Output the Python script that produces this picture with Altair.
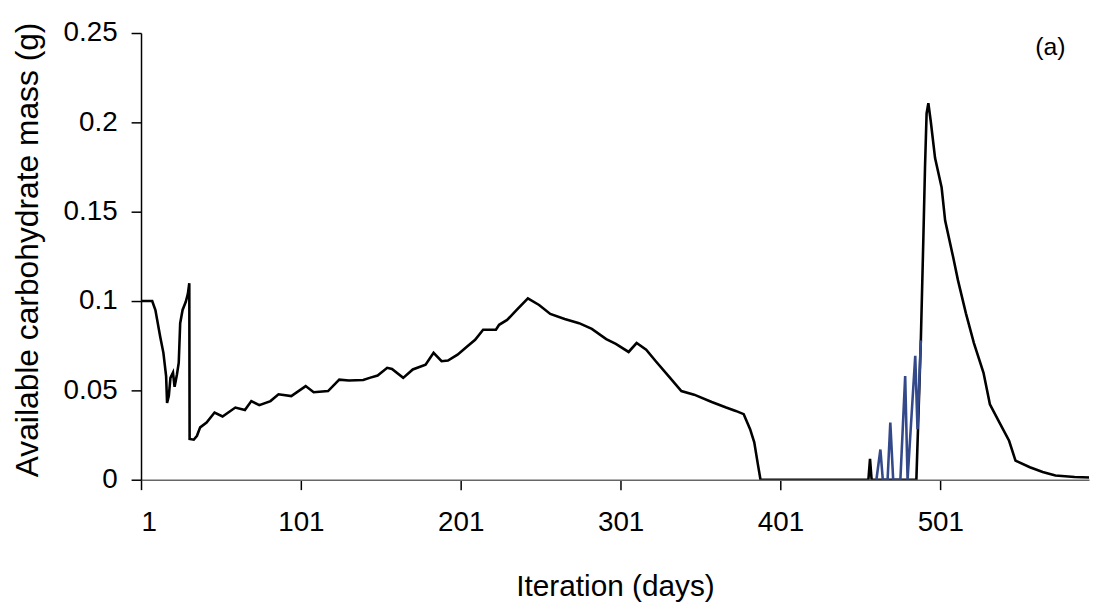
import altair as alt
import pandas as pd

# ---- data ----
black_days = [1, 8, 10, 13, 15, 16.7, 17.3, 18.4, 19.4, 21, 22, 23.5, 24.6, 25.5, 27, 29, 30.3, 31.2,
              31.4, 34, 36, 38, 42, 47, 52, 60, 66, 70, 75, 82, 87, 95, 104, 109, 118, 125, 131, 140,
              144, 149, 155, 158, 165, 171, 179, 184, 189, 193, 199, 205, 210, 215, 223, 225, 230,
              236, 243, 250, 257, 266, 275, 283, 292, 298, 306, 311, 317, 323, 331, 339, 347, 358,
              367, 373, 378, 382, 384.6, 387, 388.5, 456, 457, 458, 486, 488.8, 490.4, 491.4, 492.4,
              493.5, 495, 497.7, 501.8, 504, 509, 512, 517, 522, 528, 532, 538, 544, 548, 557, 565,
              573, 585, 596]
black_vals = [0.100, 0.100, 0.095, 0.080, 0.071, 0.058, 0.043, 0.047, 0.057, 0.060, 0.052, 0.059,
              0.0655, 0.0876, 0.095, 0.0996, 0.104, 0.110,
              0.0228, 0.0224, 0.0246, 0.0293, 0.032, 0.0376, 0.0354, 0.0404, 0.039, 0.044, 0.0417,
              0.044, 0.0478, 0.0468, 0.0524, 0.049, 0.0496, 0.056, 0.0555, 0.0558,
              0.057, 0.0583, 0.0626, 0.062, 0.057, 0.0617, 0.0644, 0.071, 0.0663, 0.0667, 0.070,
              0.0746, 0.0783, 0.0839, 0.0839, 0.0867, 0.0894,
              0.095, 0.1015, 0.0978, 0.0928, 0.090, 0.0876, 0.0844, 0.0787, 0.076, 0.0715, 0.0765,
              0.0728, 0.0663, 0.058, 0.0496, 0.0476, 0.0435,
              0.0404, 0.0385, 0.0367, 0.0283, 0.0209, 0.0079, 0.0, 0.0, 0.0117, 0.0, 0.0, 0.078,
              0.136, 0.1746, 0.205,
              0.2107, 0.2006, 0.180, 0.1635, 0.145, 0.1246, 0.1117, 0.0931, 0.0765, 0.0598, 0.0422,
              0.032, 0.0218, 0.0107, 0.007, 0.0043,
              0.0024, 0.0015, 0.0012]

blue_days = [461, 463.5, 465, 468, 469.7, 471.5, 476, 479, 480.5, 485.3, 486.7, 488.8]
blue_vals = [0.0, 0.0169, 0.0, 0.0, 0.032, 0.0, 0.0, 0.058, 0.0, 0.0694, 0.0283, 0.078]

x_ticks = [1, 101, 201, 301, 401, 501]
y_ticks = [0, 0.05, 0.1, 0.15, 0.2, 0.25]

df_black = pd.DataFrame({"day": black_days, "mass": black_vals})
df_blue = pd.DataFrame({"day": blue_days, "mass": blue_vals})
df_label = pd.DataFrame({"t": ["(a)"]})

FONT = "Liberation Sans"

x_enc = alt.X(
    "day:Q",
    scale=alt.Scale(domain=[1, 594], nice=False, zero=False),
    axis=alt.Axis(
        values=x_ticks, format="d", title="Iteration (days)",
        tickSize=10, labelPadding=19, domainColor="#666666",
        titleY=117, titleBaseline="alphabetic", titleFontSize=30,
    ),
)
y_enc = alt.Y(
    "mass:Q",
    scale=alt.Scale(domain=[0, 0.25], nice=False),
    axis=alt.Axis(
        values=y_ticks, format="~g", title="Available carbohydrate mass (g)",
        tickSize=10, labelPadding=14, titleX=-104, titleY=218,
        titleBaseline="alphabetic", titleAngle=-90, titleFontSize=32,
    ),
)

black = alt.Chart(df_black).mark_line(color="black", strokeWidth=2.6, clip=True).encode(
    x=x_enc, y=y_enc
)
blue = alt.Chart(df_blue).mark_line(color="#34498a", strokeWidth=2.6, clip=True).encode(
    x="day:Q", y="mass:Q"
)
label = alt.Chart(df_label).mark_text(
    font=FONT, fontSize=25, color="black", align="center", baseline="middle"
).encode(x=alt.value(916), y=alt.value(14), text="t:N")

chart = (
    alt.layer(black, blue, label)
    .properties(
        width=955,
        height=450,
        autosize=alt.AutoSizeParams(type="none"),
        padding={"left": 134, "top": 23, "right": 3, "bottom": 123},
        background="white",
    )
    .configure_view(stroke=None)
    .configure_axis(
        grid=False,
        labelFont=FONT, labelFontSize=28, labelColor="black",
        titleFont=FONT, titleFontWeight="normal", titleColor="black",
        tickColor="black", tickWidth=1.5, domainColor="black", domainWidth=1.5,
    )
)

chart.save("out.html", embed_options={"renderer": "svg", "actions": False})
